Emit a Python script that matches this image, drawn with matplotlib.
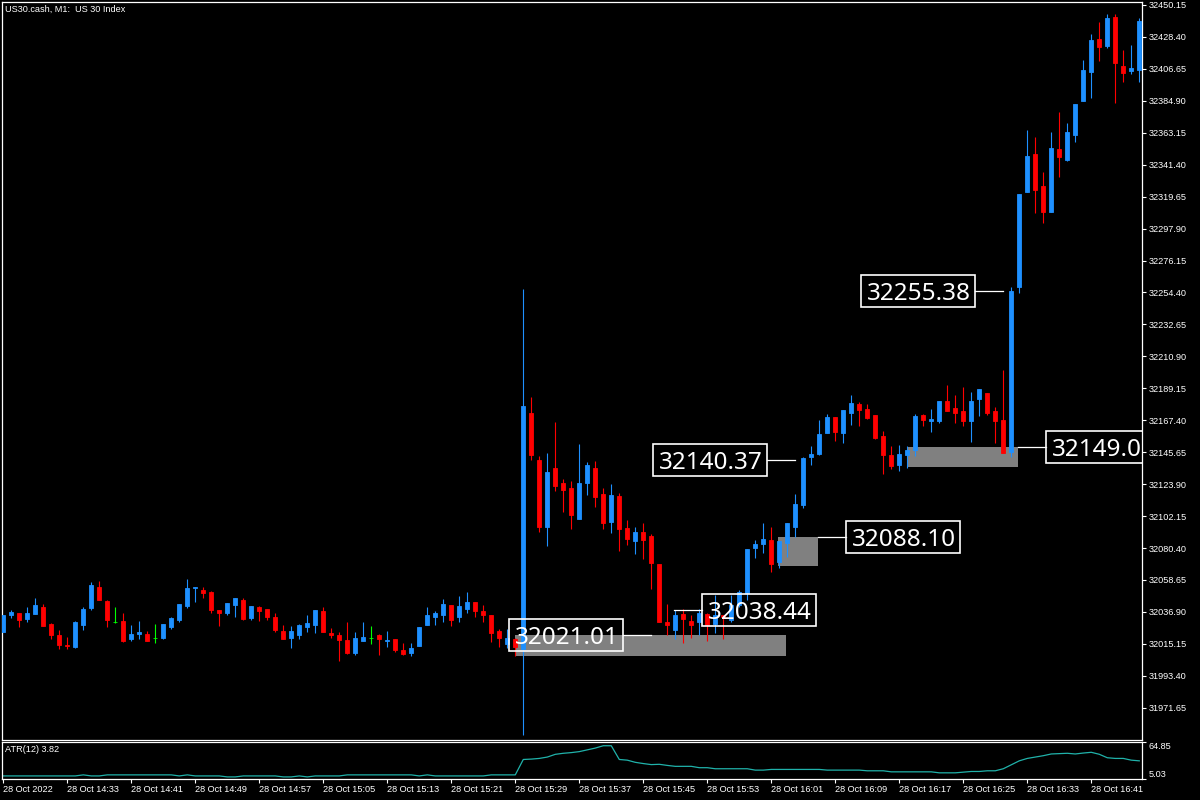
import numpy as np
import matplotlib
matplotlib.use("Agg")
import matplotlib.pyplot as plt
from matplotlib.patches import Rectangle

# US30.cash M1 candles, 28 Oct 2022 14:25 .. 16:47
opens = [
    32023.4, 32034.8, 32036.2, 32032.1, 32035.7, 32040.2, 32028.7, 32021.2, 32014.4, 32013.0,
    32028.0, 32039.8, 32053.9, 32044.3, 32030.3, 32030.7, 32018.4, 32022.1, 32021.9, 32019.1,
    32019.1, 32026.6, 32031.4, 32040.9, 32053.4, 32051.8, 32050.5, 32038.2, 32036.2, 32041.8,
    32045.0, 32032.8, 32040.2, 32038.9, 32033.4, 32023.9, 32019.1, 32021.2, 32026.6, 32028.0,
    32037.5, 32022.5, 32021.2, 32017.8, 32008.9, 32017.1, 32018.9, 32021.2, 32017.3, 32018.4,
    32011.0, 32008.9, 32013.7, 32028.0, 32033.4, 32034.8, 32041.6, 32033.4, 32038.9, 32043.6,
    32037.5, 32034.8, 32023.9, 32015.0, 32018.4, 32011.4, 32172.1, 32140.3, 32094.9, 32134.7,
    32124.7, 32121.3, 32100.4, 32124.9, 32134.7, 32117.2, 32098.3, 32115.8, 32093.8, 32085.0,
    32091.5, 32088.6, 32069.5, 32030.3, 32024.6, 32035.5, 32030.7, 32030.3, 32035.5, 32028.7,
    32034.8, 32031.4, 32041.6, 32050.0, 32080.2, 32083.1, 32085.8, 32071.1, 32083.6, 32094.9,
    32109.7, 32142.6, 32144.4, 32158.9, 32169.6, 32158.9, 32172.6, 32178.5, 32175.0, 32171.0,
    32156.7, 32143.7, 32136.9, 32143.7, 32147.1, 32171.0, 32167.1, 32166.9, 32180.5, 32176.0,
    32173.7, 32166.9, 32181.9, 32185.9, 32173.7, 32167.6, 32146.0, 32257.9, 32323.0, 32348.7,
    32326.9, 32309.0, 32351.9, 32344.6, 32361.9, 32385.0, 32404.8, 32427.0, 32422.4, 32442.0,
    32408.6, 32405.4, 32405.9,
]
highs = [
    32035.0, 32038.2, 32036.2, 32040.2, 32046.4, 32042.5, 32029.6, 32024.6, 32019.8, 32030.7,
    32040.5, 32057.3, 32057.9, 32045.0, 32040.2, 32036.2, 32028.0, 32030.7, 32023.7, 32028.7,
    32028.7, 32033.4, 32042.3, 32059.3, 32053.9, 32053.6, 32051.1, 32038.2, 32043.0, 32046.4,
    32046.4, 32040.9, 32040.9, 32038.9, 32036.2, 32028.0, 32027.3, 32028.7, 32034.8, 32038.2,
    32040.2, 32025.9, 32023.2, 32030.0, 32023.2, 32030.0, 32027.3, 32021.9, 32023.9, 32018.4,
    32015.7, 32015.7, 32026.6, 32040.2, 32037.5, 32045.7, 32041.6, 32047.7, 32050.5, 32043.6,
    32041.6, 32034.8, 32025.3, 32025.3, 32019.1, 32256.8, 32183.5, 32143.1, 32145.1, 32166.2,
    32127.4, 32126.0, 32151.2, 32139.0, 32139.7, 32121.3, 32124.0, 32117.6, 32099.5, 32094.5,
    32097.2, 32089.9, 32069.5, 32042.3, 32038.2, 32038.6, 32034.8, 32038.6, 32036.4, 32048.4,
    32034.8, 32048.4, 32051.8, 32079.7, 32085.8, 32097.4, 32094.5, 32085.2, 32097.4, 32117.2,
    32142.6, 32149.9, 32167.6, 32171.6, 32169.6, 32174.4, 32184.6, 32180.0, 32178.5, 32171.0,
    32160.1, 32149.9, 32150.5, 32149.9, 32171.6, 32171.6, 32175.0, 32180.5, 32191.4, 32184.6,
    32190.0, 32186.6, 32188.7, 32185.9, 32176.4, 32201.6, 32258.4, 32321.4, 32365.0, 32360.5,
    32336.2, 32363.4, 32377.3, 32369.6, 32382.5, 32412.7, 32430.4, 32438.6, 32444.0, 32444.0,
    32419.5, 32423.1, 32441.3,
]
lows = [
    32023.2, 32032.5, 32026.8, 32029.8, 32035.7, 32027.5, 32018.4, 32011.9, 32011.9, 32012.3,
    32024.6, 32038.2, 32045.2, 32026.8, 32029.6, 32016.6, 32017.3, 32018.4, 32017.1, 32015.7,
    32018.4, 32025.3, 32030.0, 32039.8, 32043.6, 32046.4, 32036.2, 32027.3, 32034.8, 32033.4,
    32031.4, 32031.4, 32030.7, 32031.4, 32023.2, 32018.4, 32012.3, 32018.4, 32023.2, 32022.5,
    32023.2, 32019.1, 32003.5, 32008.2, 32007.6, 32017.1, 32015.0, 32007.6, 32013.0, 32009.6,
    32007.6, 32006.9, 32013.7, 32028.0, 32028.0, 32030.0, 32027.3, 32030.0, 32036.2, 32033.4,
    32030.0, 32016.4, 32013.0, 32012.3, 32006.9, 31953.1, 32140.3, 32091.5, 32082.0, 32119.5,
    32105.2, 32093.1, 32100.4, 32116.3, 32108.6, 32093.1, 32090.9, 32078.6, 32082.2, 32076.1,
    32073.2, 32052.3, 32030.3, 32021.2, 32018.2, 32016.0, 32019.4, 32021.2, 32017.3, 32022.7,
    32018.2, 32030.3, 32040.5, 32045.0, 32073.3, 32076.8, 32064.3, 32067.0, 32074.5, 32088.1,
    32107.9, 32136.9, 32143.7, 32158.9, 32153.3, 32152.1, 32164.1, 32163.5, 32168.2, 32154.6,
    32130.8, 32134.2, 32133.1, 32135.1, 32143.3, 32163.5, 32159.6, 32165.5, 32173.7, 32165.5,
    32163.5, 32152.8, 32170.3, 32171.0, 32152.1, 32145.3, 32142.6, 32253.8, 32323.0, 32308.3,
    32301.9, 32309.0, 32332.8, 32343.9, 32357.1, 32385.0, 32387.0, 32412.0, 32421.1, 32383.6,
    32397.7, 32403.4, 32397.7,
]
closes = [
    32034.8, 32037.1, 32031.4, 32036.2, 32041.6, 32027.5, 32021.2, 32014.4, 32013.7, 32030.0,
    32038.9, 32055.2, 32045.2, 32031.6, 32030.3, 32017.1, 32021.9, 32023.2, 32017.1, 32019.1,
    32028.7, 32032.5, 32042.3, 32053.2, 32053.9, 32049.8, 32038.2, 32036.4, 32043.0, 32046.4,
    32032.1, 32040.9, 32037.5, 32033.4, 32024.6, 32018.4, 32023.9, 32028.0, 32029.4, 32038.2,
    32023.2, 32021.2, 32017.8, 32008.9, 32019.1, 32019.8, 32018.9, 32018.4, 32017.8, 32011.0,
    32008.2, 32012.3, 32026.6, 32034.8, 32036.2, 32042.3, 32031.4, 32040.9, 32043.6, 32037.5,
    32034.8, 32022.5, 32019.1, 32019.1, 32013.0, 32177.1, 32143.7, 32094.9, 32132.2, 32122.9,
    32120.1, 32103.1, 32124.7, 32136.7, 32115.4, 32097.2, 32116.3, 32093.1, 32086.8, 32091.1,
    32085.9, 32070.4, 32030.3, 32028.0, 32034.8, 32032.1, 32028.0, 32036.4, 32028.0, 32034.8,
    32033.2, 32041.6, 32050.7, 32079.7, 32083.1, 32086.5, 32069.5, 32085.2, 32097.4, 32110.4,
    32141.5, 32144.4, 32158.0, 32169.6, 32159.6, 32174.4, 32179.1, 32174.6, 32168.9, 32155.3,
    32143.7, 32136.2, 32144.4, 32147.1, 32170.3, 32167.6, 32168.2, 32180.5, 32173.7, 32172.3,
    32166.9, 32180.5, 32188.7, 32172.3, 32166.9, 32145.3, 32255.4, 32321.4, 32347.3, 32324.2,
    32309.4, 32352.8, 32346.9, 32363.4, 32382.5, 32405.9, 32426.3, 32421.8, 32441.3, 32410.4,
    32404.1, 32407.2, 32439.2,
]
atr = [
    10.0, 10.0, 10.0, 10.0, 10.0, 10.0, 10.0, 10.0, 10.0, 10.0,
    11.7, 10.0, 10.0, 11.7, 11.7, 11.7, 11.7, 11.7, 11.7, 11.7,
    11.7, 11.7, 10.0, 11.7, 10.0, 10.0, 10.0, 10.0, 8.4, 8.4,
    10.0, 10.0, 10.0, 10.0, 10.0, 8.4, 8.4, 10.0, 8.4, 10.0,
    10.0, 10.0, 10.0, 11.7, 11.7, 11.7, 11.7, 11.7, 11.7, 11.7,
    11.7, 11.7, 10.0, 11.7, 10.0, 10.0, 10.0, 10.0, 10.0, 10.0,
    10.0, 11.7, 11.7, 11.7, 11.7, 36.6, 37.2, 38.3, 40.5, 44.9,
    46.6, 47.7, 49.3, 52.1, 55.0, 58.8, 58.8, 36.6, 35.5, 32.0,
    30.0, 28.3, 28.8, 27.0, 25.5, 25.5, 25.5, 23.3, 23.3, 21.6,
    21.6, 21.6, 21.6, 21.6, 19.4, 19.4, 20.5, 20.5, 20.5, 20.5,
    20.5, 20.5, 20.5, 19.4, 19.4, 19.4, 19.4, 19.4, 18.3, 18.3,
    18.3, 16.6, 16.6, 16.6, 16.6, 16.6, 16.6, 15.0, 15.0, 15.0,
    16.1, 17.2, 17.2, 18.3, 18.3, 21.6, 28.0, 34.4, 38.3, 40.5,
    42.7, 45.5, 46.0, 46.6, 45.5, 47.0, 48.2, 45.0, 39.4, 38.3,
    38.3, 35.5, 34.4,
]
time_labels = ["28 Oct 2022", "28 Oct 14:33", "28 Oct 14:41", "28 Oct 14:49", "28 Oct 14:57",
               "28 Oct 15:05", "28 Oct 15:13", "28 Oct 15:21", "28 Oct 15:29", "28 Oct 15:37",
               "28 Oct 15:45", "28 Oct 15:53", "28 Oct 16:01", "28 Oct 16:09", "28 Oct 16:17",
               "28 Oct 16:25", "28 Oct 16:33", "28 Oct 16:41"]

# price levels marked on the chart (last one is cut by the price scale)
level_texts = ["32021.01", "32038.44", "32088.10", "32140.37", "32149.0", "32255.38"]
level_prices = [32021.01, 32038.44, 32088.10, 32140.37, 32149.0, 32255.38]
zone_tops = [32021.01, 32088.10, 32149.0]
zone_bottoms = [32006.9, 32068.2, 32135.5]

BLUE = "#1E90FF"
RED = "#FF0000"
LIME = "#00FF00"
GRID_TXT = "Liberation Sans"

fig = plt.figure(figsize=(12, 8), dpi=100, facecolor="black")
ax = fig.add_axes([2 / 1200, 1 - 740 / 800, 1140 / 1200, 738 / 800])
ax2 = fig.add_axes([2 / 1200, 1 - 779 / 800, 1140 / 1200, 37 / 800])

for a in (ax, ax2):
    a.set_facecolor("black")
    for s in a.spines.values():
        s.set_color("white")
        s.set_linewidth(0.9)
    a.set_xlim(-0.16, 142.34)

x = np.arange(len(opens))
o = np.array(opens)
c = np.array(closes)
cols = [BLUE if cc > oo else (RED if cc < oo else LIME) for oo, cc in zip(o, c)]

ax.vlines(x, lows, highs, colors=cols, linewidth=0.8, zorder=3)
ax.bar(x, np.abs(c - o), bottom=np.minimum(o, c), width=0.55, color=cols,
       edgecolor=cols, linewidth=0.6, zorder=3)

# grey zones
zone_x = [(63.96, 97.8), (96.8, 101.8), (112.96, 126.8)]
for (x0, x1), top, bot in zip(zone_x, zone_tops, zone_bottoms):
    ax.add_patch(Rectangle((x0, bot), x1 - x0, top - bot, facecolor="#808080",
                           edgecolor="none", zorder=2))

# labels with leader lines
label_pos = [(77.46, 80.96, "left"), (83.85, 87.34, "right"), (101.84, 105.34, "right"),
             (95.46, 98.96, "left"), (126.84, 130.34, "right"), (121.46, 124.96, "left")]
box_w = 14.25
box_h = 32 / 1.4686
for txt, p, (l0, l1, side) in zip(level_texts, level_prices, label_pos):
    ax.plot([l0, l1], [p, p], color="white", lw=0.9, zorder=4)
    bx = l0 - box_w if side == "left" else l1
    ax.add_patch(Rectangle((bx, p - box_h / 2), box_w, box_h, facecolor="none",
                           edgecolor="white", lw=1.2, zorder=5, clip_on=True))
    ax.text(bx + 0.75, p, txt, color="white", fontsize=17.5, family="Noto Sans",
            ha="left", va="center_baseline", zorder=6, clip_on=True)

ax.set_ylim(31949.67, 32452.19)
yt = np.arange(31971.65, 32450.2, 21.75)
ax.yaxis.tick_right()
ax.set_yticks(yt)
ax.set_yticklabels(["%.2f" % v for v in yt])
ax.tick_params(axis="y", colors="white", length=3, width=0.8, pad=1.5, labelsize=6.6)
ax.tick_params(axis="x", bottom=False, labelbottom=False)
for t in ax.get_yticklabels():
    t.set_fontfamily(GRID_TXT)

# ATR panel
ax2.plot(x, atr, color="#20B2AA", lw=0.9)
ax2.set_ylim(5.03, 64.85)
ax2.yaxis.tick_right()
ax2.set_yticks([5.03, 64.85])
ax2.set_yticklabels(["5.03", "64.85"])
ax2.tick_params(axis="y", colors="white", length=3, width=0.8, pad=1.5, labelsize=6.6)
yl = ax2.get_yticklabels()
yl[0].set_va("bottom")
yl[1].set_va("top")
for t in yl:
    t.set_fontfamily(GRID_TXT)
ax2.set_xticks(np.arange(0, 137, 8))
ax2.set_xticklabels(time_labels)
ax2.tick_params(axis="x", colors="white", length=3, width=0.8, pad=1.5, labelsize=6.6)
for t in ax2.get_xticklabels():
    t.set_ha("left")
    t.set_fontfamily(GRID_TXT)

fig.text(5 / 1200, 1 - 9 / 800, "US30.cash, M1:  US 30 Index", color="white",
         fontsize=6.6, family=GRID_TXT, va="center")
fig.text(5 / 1200, 1 - 750 / 800, "ATR(12) 3.82", color="white",
         fontsize=6.6, family=GRID_TXT, va="center")

fig.savefig("out.png", dpi=100, facecolor="black")
